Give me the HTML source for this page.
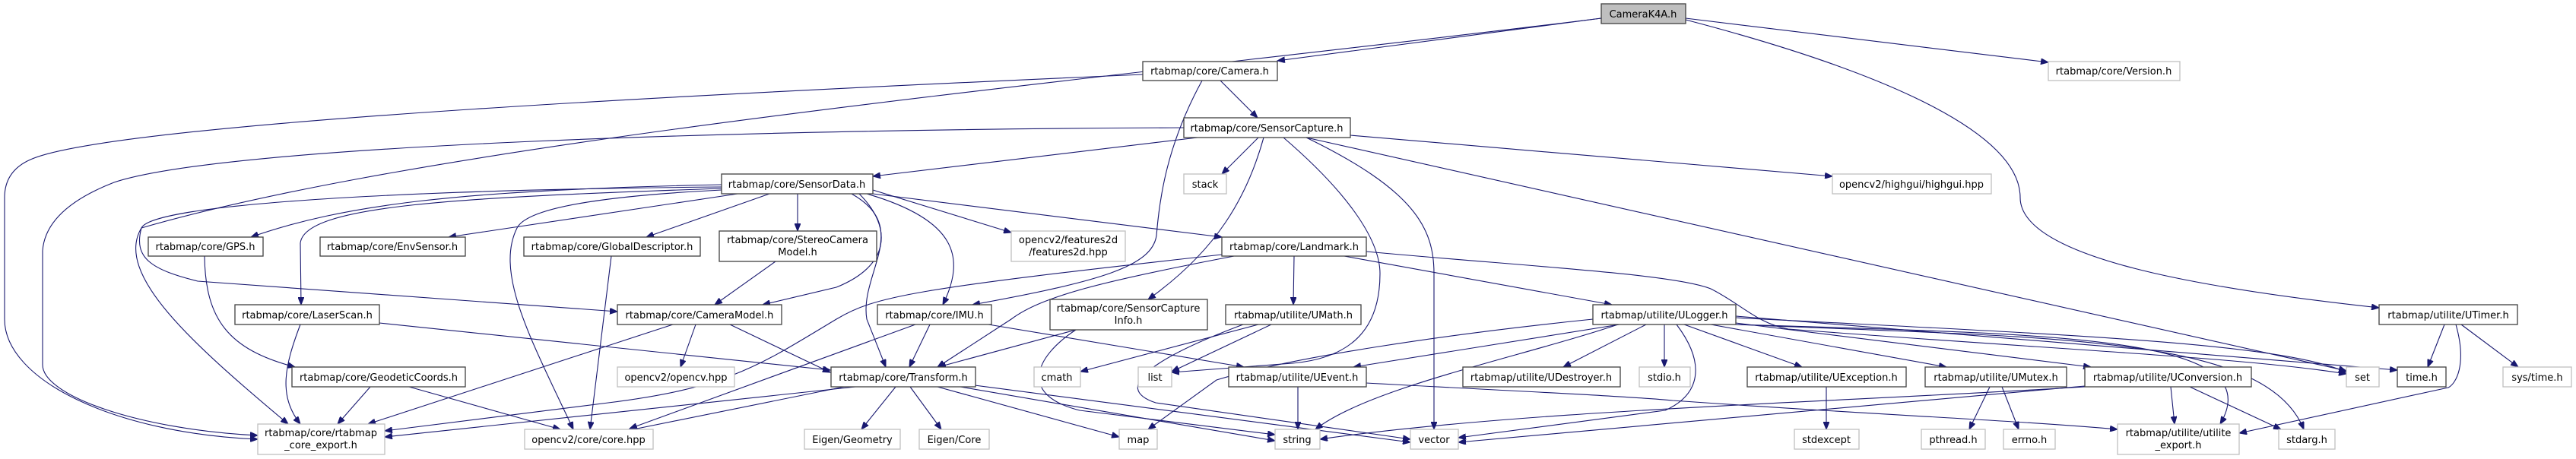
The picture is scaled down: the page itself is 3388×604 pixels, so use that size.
<!DOCTYPE html>
<html><head><meta charset="utf-8"><style>
html,body{margin:0;padding:0;background:#fff;width:3388px;height:604px;overflow:hidden}
svg{display:block}
text{font-family:"DejaVu Sans","Liberation Sans",sans-serif;font-size:13px;fill:#000;text-anchor:middle}
.d{fill:#fff;stroke:#404040;stroke-width:1.3}
.g{fill:#fff;stroke:#bfbfbf;stroke-width:1.3}
.e path{fill:none;stroke:#191970;stroke-width:1.1;marker-end:url(#a)}
</style></head><body>
<svg width="3388" height="604" viewBox="0 0 3388 604" xmlns="http://www.w3.org/2000/svg">
<defs><marker id="a" markerUnits="userSpaceOnUse" markerWidth="11" markerHeight="8" refX="10" refY="4" orient="auto"><path d="M0,0 L10,4 L0,8 z" fill="#191970" stroke="#191970"/></marker></defs>
<g class="e">
<path d="M2106,24 L1680,80"/>
<path d="M2217,24 L2694,82"/>
<path d="M2217,26 C2500,100 2657,180 2657,260 C2657,340 2900,380 3129,405"/>
<path d="M2106,24 C1500,100 600,180 186,300 C175,340 200,355 260,370 L812,410"/>
<path d="M1503,98 C1000,120 150,160 40,210 Q6,225 6,260 L6,420 C6,500 150,570 339,578"/>
<path d="M1605,106 L1654,155"/>
<path d="M1581,106 C1535,190 1525,260 1521,310 C1515,350 1450,370 1279,401"/>
<path d="M1557,168 C1000,170 300,190 150,240 Q60,275 56,330 L56,480 C56,520 180,565 339,573"/>
<path d="M1575,181 L1148,232"/>
<path d="M1655,181 L1607,229"/>
<path d="M1662,181 C1640,260 1600,330 1510,394"/>
<path d="M1688,181 C1780,260 1815,320 1815,360 C1815,420 1790,470 1700,478 L1541,490"/>
<path d="M1718,181 C1860,250 1886,300 1886,360 L1886,565"/>
<path d="M1718,181 L3086,488"/>
<path d="M1776,178 L2410,232"/>
<path d="M949,243 C600,250 450,270 330,312"/>
<path d="M970,255 L590,312"/>
<path d="M1012,255 L850,312"/>
<path d="M1049,255 L1049,304"/>
<path d="M949,248 C600,260 400,270 395,320 L396,401"/>
<path d="M1130,255 C1175,300 1170,350 1100,378 L1003,401"/>
<path d="M949,250 C750,260 690,280 680,300 C650,360 700,450 754,565"/>
<path d="M949,246 C500,250 200,270 186,300 C150,360 250,450 379,558"/>
<path d="M1120,255 C1200,300 1130,360 1140,420 L1165,483"/>
<path d="M1140,255 C1260,290 1270,340 1240,401"/>
<path d="M1148,250 L1330,306"/>
<path d="M1148,255 L1607,312"/>
<path d="M1702,337 L1701,401"/>
<path d="M1768,337 L2120,401"/>
<path d="M1623,337 C1450,370 1370,390 1330,420 L1233,483"/>
<path d="M1607,335 C1200,380 1150,390 1100,420 C1000,480 960,510 800,530 L506,567"/>
<path d="M1797,331 C2000,350 2200,360 2250,380 C2290,400 2310,425 2352,433 C2700,460 2950,470 3086,492"/>
<path d="M1655,427 L1421,489"/>
<path d="M1672,427 L1541,489"/>
<path d="M1635,427 C1520,470 1460,510 1520,530 L1855,578"/>
<path d="M1223,427 L1196,483"/>
<path d="M1300,427 L1636,483"/>
<path d="M1204,427 L828,564"/>
<path d="M1415,434 L1234,483"/>
<path d="M1415,434 C1360,470 1340,520 1420,540 L1677,572"/>
<path d="M885,427 L484,558"/>
<path d="M915,427 L895,483"/>
<path d="M960,427 L1092,490"/>
<path d="M499,425 L1092,487"/>
<path d="M395,427 C375,480 365,520 395,558"/>
<path d="M269,337 C270,420 300,460 388,483"/>
<path d="M487,509 L444,558"/>
<path d="M538,509 L737,565"/>
<path d="M804,337 L776,565"/>
<path d="M1020,344 L940,401"/>
<path d="M1125,509 L506,575"/>
<path d="M1110,509 L828,566"/>
<path d="M1178,509 L1133,565"/>
<path d="M1197,509 L1238,565"/>
<path d="M1233,509 L1472,575"/>
<path d="M1263,509 L1677,580"/>
<path d="M1282,507 L1855,582"/>
<path d="M1707,509 L1707,565"/>
<path d="M1797,504 C2000,515 2150,522 2200,527 C2450,545 2650,553 2785,565"/>
<path d="M2130,427 L1780,483"/>
<path d="M2165,427 L2056,483"/>
<path d="M2189,427 L2189,483"/>
<path d="M2215,427 L2370,483"/>
<path d="M2250,427 L2560,483"/>
<path d="M2283,425 L2750,483"/>
<path d="M2283,418 C2700,440 3000,450 3086,490"/>
<path d="M2283,416 L3153,487"/>
<path d="M2283,427 C2700,445 2980,440 3030,565"/>
<path d="M2283,427 C2700,440 2990,440 2920,558"/>
<path d="M2128,427 C2000,470 1800,510 1730,565"/>
<path d="M2205,427 C2245,480 2235,520 2190,540 L1918,576"/>
<path d="M2095,420 C1900,440 1700,470 1600,500 L1510,565"/>
<path d="M2855,509 L2860,558"/>
<path d="M2880,509 L3000,565"/>
<path d="M2742,509 C2400,530 2000,540 1736,578"/>
<path d="M2742,508 L1918,582"/>
<path d="M2402,509 L2402,565"/>
<path d="M2617,509 L2590,565"/>
<path d="M2633,509 L2655,565"/>
<path d="M3215,427 L3193,483"/>
<path d="M3237,427 L3312,483"/>
<path d="M3230,427 C3245,480 3230,505 3220,510 L2945,570"/>
</g>
<g>
<rect x="2106" y="5" width="111" height="26" fill="#bfbfbf" stroke="#404040" stroke-width="1.3"/><text x="2161" y="23">CameraK4A.h</text>
<rect class="d" x="1503" y="81" width="177" height="25"/><text x="1591" y="98">rtabmap/core/Camera.h</text>
<rect class="g" x="2694" y="81" width="173" height="25"/><text x="2780" y="98">rtabmap/core/Version.h</text>
<rect class="d" x="1557" y="155" width="219" height="26"/><text x="1666" y="173">rtabmap/core/SensorCapture.h</text>
<rect class="d" x="949" y="229" width="199" height="26"/><text x="1048" y="247">rtabmap/core/SensorData.h</text>
<rect class="g" x="1557" y="229" width="56" height="26"/><text x="1585" y="247">stack</text>
<rect class="g" x="2410" y="229" width="209" height="26"/><text x="2514" y="247">opencv2/highgui/highgui.hpp</text>
<rect class="d" x="195" y="312" width="151" height="25"/><text x="270" y="329">rtabmap/core/GPS.h</text>
<rect class="d" x="421" y="312" width="191" height="25"/><text x="516" y="329">rtabmap/core/EnvSensor.h</text>
<rect class="d" x="689" y="312" width="232" height="25"/><text x="805" y="329">rtabmap/core/GlobalDescriptor.h</text>
<rect class="d" x="946" y="304" width="207" height="40"/><text x="1049" y="320">rtabmap/core/StereoCamera</text><text x="1049" y="336">Model.h</text>
<rect class="g" x="1330" y="304" width="150" height="40"/><text x="1405" y="320">opencv2/features2d</text><text x="1405" y="336">/features2d.hpp</text>
<rect class="d" x="1607" y="312" width="190" height="25"/><text x="1702" y="329">rtabmap/core/Landmark.h</text>
<rect class="d" x="309" y="401" width="190" height="26"/><text x="404" y="419">rtabmap/core/LaserScan.h</text>
<rect class="d" x="812" y="401" width="216" height="26"/><text x="920" y="419">rtabmap/core/CameraModel.h</text>
<rect class="d" x="1154" y="401" width="150" height="26"/><text x="1229" y="419">rtabmap/core/IMU.h</text>
<rect class="d" x="1381" y="394" width="207" height="40"/><text x="1484" y="410">rtabmap/core/SensorCapture</text><text x="1484" y="426">Info.h</text>
<rect class="d" x="1612" y="401" width="178" height="26"/><text x="1701" y="419">rtabmap/utilite/UMath.h</text>
<rect class="d" x="2095" y="401" width="188" height="26"/><text x="2189" y="419">rtabmap/utilite/ULogger.h</text>
<rect class="d" x="3129" y="401" width="182" height="26"/><text x="3220" y="419">rtabmap/utilite/UTimer.h</text>
<rect class="d" x="384" y="483" width="228" height="26"/><text x="498" y="501">rtabmap/core/GeodeticCoords.h</text>
<rect class="g" x="812" y="483" width="154" height="26"/><text x="889" y="501">opencv2/opencv.hpp</text>
<rect class="d" x="1093" y="483" width="190" height="26"/><text x="1188" y="501">rtabmap/core/Transform.h</text>
<rect class="g" x="1360" y="483" width="61" height="26"/><text x="1390" y="501">cmath</text>
<rect class="g" x="1497" y="483" width="44" height="26"/><text x="1519" y="501">list</text>
<rect class="d" x="1616" y="483" width="181" height="26"/><text x="1706" y="501">rtabmap/utilite/UEvent.h</text>
<rect class="d" x="1924" y="483" width="207" height="26"/><text x="2027" y="501">rtabmap/utilite/UDestroyer.h</text>
<rect class="g" x="2156" y="483" width="67" height="26"/><text x="2189" y="501">stdio.h</text>
<rect class="d" x="2298" y="483" width="209" height="26"/><text x="2402" y="501">rtabmap/utilite/UException.h</text>
<rect class="d" x="2532" y="483" width="186" height="26"/><text x="2625" y="501">rtabmap/utilite/UMutex.h</text>
<rect class="d" x="2742" y="483" width="219" height="26"/><text x="2851" y="501">rtabmap/utilite/UConversion.h</text>
<rect class="g" x="3086" y="483" width="43" height="26"/><text x="3107" y="501">set</text>
<rect class="d" x="3153" y="483" width="64" height="26"/><text x="3185" y="501">time.h</text>
<rect class="g" x="3292" y="483" width="90" height="26"/><text x="3337" y="501">sys/time.h</text>
<rect class="g" x="339" y="558" width="167" height="40"/><text x="422" y="574">rtabmap/core/rtabmap</text><text x="422" y="590">_core_export.h</text>
<rect class="g" x="690" y="565" width="169" height="26"/><text x="774" y="583">opencv2/core/core.hpp</text>
<rect class="g" x="1058" y="565" width="126" height="26"/><text x="1121" y="583">Eigen/Geometry</text>
<rect class="g" x="1209" y="565" width="92" height="26"/><text x="1255" y="583">Eigen/Core</text>
<rect class="g" x="1472" y="565" width="50" height="26"/><text x="1497" y="583">map</text>
<rect class="g" x="1677" y="565" width="59" height="26"/><text x="1706" y="583">string</text>
<rect class="g" x="1855" y="565" width="63" height="26"/><text x="1886" y="583">vector</text>
<rect class="g" x="2360" y="565" width="85" height="26"/><text x="2402" y="583">stdexcept</text>
<rect class="g" x="2527" y="565" width="84" height="26"/><text x="2569" y="583">pthread.h</text>
<rect class="g" x="2635" y="565" width="68" height="26"/><text x="2669" y="583">errno.h</text>
<rect class="g" x="2785" y="558" width="160" height="40"/><text x="2865" y="574">rtabmap/utilite/utilite</text><text x="2865" y="590">_export.h</text>
<rect class="g" x="2997" y="565" width="74" height="26"/><text x="3034" y="583">stdarg.h</text>
</g>
</svg>
</body></html>
